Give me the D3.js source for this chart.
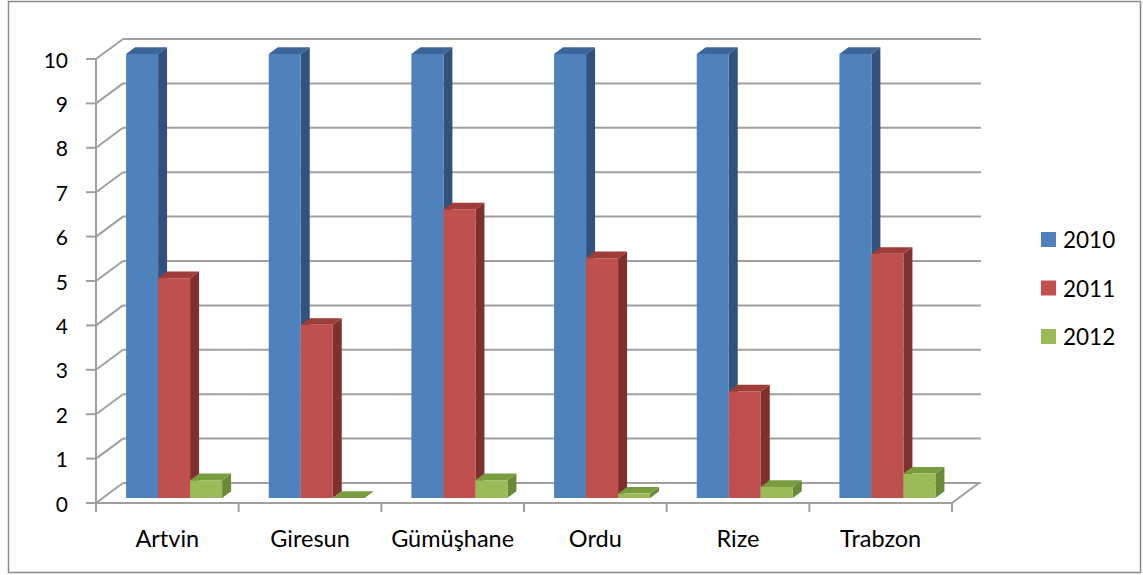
<!DOCTYPE html>
<html>
<head>
<meta charset="utf-8">
<script src="https://cdn.jsdelivr.net/npm/d3@7"></script>
<style>
  html, body { margin: 0; padding: 0; background: #fff; }
  svg { display: block; }
  text { font-family: Lato, "Noto Sans", sans-serif; fill: #000; }
</style>
</head>
<body>
<svg id="chart" width="1143" height="575"></svg>
<script>
// Provinces on the category axis
const categories = ["Artvin", "Giresun", "Gümüşhane", "Ordu", "Rize", "Trabzon"];
// Series (years) and their values per province
const seriesNames = ["2010", "2011", "2012"];
const values2010 = [10, 10, 10, 10, 10, 10];
const values2011 = [4.95, 3.9, 6.5, 5.4, 2.4, 5.5];
const values2012 = [0.4, 0, 0.4, 0.1, 0.25, 0.55];
const yTicks = [0, 1, 2, 3, 4, 5, 6, 7, 8, 9, 10];

const seriesValues = [values2010, values2011, values2012];
const palette = [
  { front: "#4F81BD", side: "#31527C", top: "#3C6496" },
  { front: "#C0504D", side: "#7E2F2E", top: "#9E3C39" },
  { front: "#9BBB59", side: "#6A8A38", top: "#7A9C40" }
];

const svg = d3.select("#chart");

// Outer frame
svg.append("rect")
  .attr("x", 8.5).attr("y", 1.5).attr("width", 1132).attr("height", 571)
  .attr("fill", "#fff").attr("stroke", "#8C8C8C").attr("stroke-width", 1.5);

// Front plane scales; the back plane is shifted by the depth vector
const x = d3.scaleBand().domain(categories).range([96, 952]);
const y = d3.scaleLinear().domain([0, 10]).range([503, 59]);
const depth = { dx: 27, dy: -20 };
const off = t => [depth.dx * t, depth.dy * t];

// Series positions inside a category
const groupShare = 0.673;
const gap = x.bandwidth() * (1 - groupShare) / 2;
const xs = d3.scaleBand().domain(seriesNames).range([gap, x.bandwidth() - gap]);

const gridColor = "#A0A0A0";
const grid = svg.append("g").attr("stroke", gridColor).attr("stroke-width", 2).attr("fill", "none");

// Back wall gridlines
const [bdx, bdy] = off(1);
const xEnd = x.range()[1];
grid.selectAll("line.back").data(yTicks).join("line")
  .attr("class", "back")
  .attr("x1", x.range()[0] + bdx).attr("x2", xEnd + bdx + 2)
  .attr("y1", d => y(d) + bdy).attr("y2", d => y(d) + bdy);

// Side wall gridlines (diagonals from the value axis to the back wall)
grid.selectAll("line.side").data(yTicks).join("line")
  .attr("class", "side")
  .attr("x1", x.range()[0]).attr("x2", x.range()[0] + bdx)
  .attr("y1", d => y(d)).attr("y2", d => y(d) + bdy);

// Floor: front edge and right edge
grid.append("line")
  .attr("x1", x.range()[0]).attr("x2", xEnd)
  .attr("y1", y(0)).attr("y2", y(0));
grid.append("line")
  .attr("x1", xEnd).attr("x2", xEnd + bdx)
  .attr("y1", y(0)).attr("y2", y(0) + bdy);

// Value axis line and ticks
grid.append("line")
  .attr("x1", x.range()[0]).attr("x2", x.range()[0])
  .attr("y1", y(10)).attr("y2", y(0));
grid.selectAll("line.ytick").data(yTicks).join("line")
  .attr("class", "ytick")
  .attr("x1", x.range()[0] - 10).attr("x2", x.range()[0])
  .attr("y1", d => y(d)).attr("y2", d => y(d));

// Category ticks
const catEdges = categories.map(c => x(c)).concat([xEnd]);
grid.selectAll("line.xtick").data(catEdges).join("line")
  .attr("class", "xtick")
  .attr("x1", d => d).attr("x2", d => d)
  .attr("y1", y(0)).attr("y2", y(0) + 9);

// Value labels
svg.append("g").selectAll("text").data(yTicks).join("text")
  .attr("x", 68).attr("y", d => y(d))
  .attr("text-anchor", "end").attr("dominant-baseline", "central")
  .attr("font-size", 21)
  .text(d => d);

// Category labels
svg.append("g").selectAll("text").data(categories).join("text")
  .attr("x", c => x(c) + x.bandwidth() / 2).attr("y", 538)
  .attr("text-anchor", "middle").attr("dominant-baseline", "central")
  .attr("font-size", 23.5)
  .text(c => c);

// 3D bars: front face at depth t0, back face at depth t1
const t0 = 0.25, t1 = 0.583;
const [fx, fy] = off(t0);
const [kx, ky] = off(t1);
const pts = a => a.map(p => p.join(",")).join(" ");

const bars = [];
categories.forEach((c, i) => {
  seriesNames.forEach((s, j) => {
    bars.push({ c, s, j, v: seriesValues[j][i] });
  });
});

const barG = svg.append("g");
bars.forEach(b => {
  const xl = x(b.c) + xs(b.s) + fx;
  const xr = xl + xs.bandwidth();
  const yb = y(0) + fy;
  const yt = y(b.v) + fy;
  const col = palette[b.j];
  const g = barG.append("g");
  // right side face
  g.append("polygon")
    .attr("points", pts([[xr, yb], [xr + kx - fx, yb + ky - fy], [xr + kx - fx, yt + ky - fy], [xr, yt]]))
    .attr("fill", col.side);
  // top face
  g.append("polygon")
    .attr("points", pts([[xl, yt], [xr, yt], [xr + kx - fx, yt + ky - fy], [xl + kx - fx, yt + ky - fy]]))
    .attr("fill", col.top);
  // front face
  g.append("rect")
    .attr("x", xl).attr("y", yt).attr("width", xr - xl).attr("height", Math.max(0, yb - yt))
    .attr("fill", col.front);
});

// Legend
const legend = svg.append("g").selectAll("g").data(seriesNames).join("g")
  .attr("transform", (d, i) => `translate(1041, ${232 + i * 48.5})`);
legend.append("rect").attr("width", 15).attr("height", 15)
  .attr("fill", (d, i) => palette[i].front);
legend.append("text").attr("x", 22).attr("y", 7.5)
  .attr("dominant-baseline", "central").attr("font-size", 22.5)
  .text(d => d);
</script>
</body>
</html>
